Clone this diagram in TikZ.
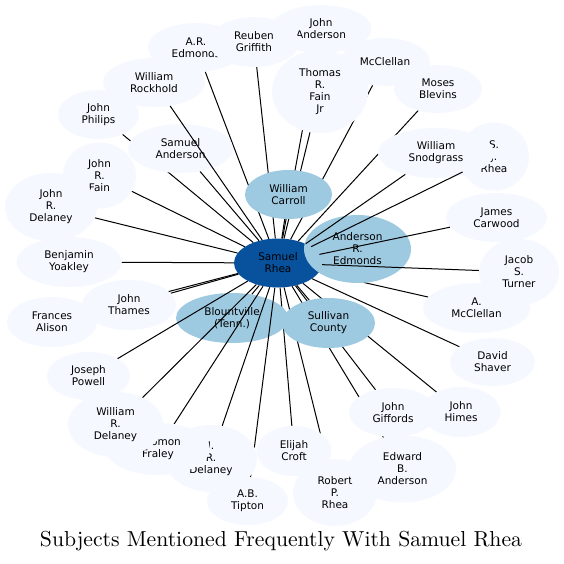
\documentclass[tikz,border=0pt]{standalone}
\usepackage{fontspec}
\usepackage{graphicx}
\setsansfont{DejaVu Sans}
\usetikzlibrary{shapes.geometric}
\definecolor{lightbub}{RGB}{245,249,255}
\definecolor{midbub}{RGB}{158,202,225}
\definecolor{darkbub}{RGB}{8,81,156}
\pgfdeclarelayer{bg}
\pgfdeclarelayer{base}
\pgfdeclarelayer{edgesover}
\pgfdeclarelayer{top}
\pgfsetlayers{bg,base,main,edgesover,top}
\begin{document}
\begin{tikzpicture}[x=1pt,y=-1pt,
  bub/.style={ellipse, inner sep=0pt, align=center, text=black,
    font=\sffamily\fontsize{10.5}{12}\selectfont},
  lt/.style={bub, fill=lightbub},
  md/.style={bub, fill=midbub},
  dk/.style={bub, fill=darkbub},
  sz/.style 2 args={minimum width=#1pt, minimum height=#2pt},
  link/.style={draw=black, line width=1pt}
]
\useasboundingbox (0,0) rectangle (564,563);
\begin{pgfonlayer}{bg}
\fill[white] (0,0) rectangle (564,563);
\end{pgfonlayer}

% centre
\begin{pgfonlayer}{base}
\node[dk, sz={88}{49}] (sr) at (278,263) {Samuel\\Rhea};
\end{pgfonlayer}

% central mid-blue nodes
\node[md, sz={107}{68}] (ardm) at (357.5,249) {Anderson\\R.\\Edmonds};
\node[md, sz={112}{50}] (blount) at (232,318) {Blountville\\(Tenn.)};
\node[md, sz={87}{49}] (carroll) at (288.5,194.5) {William\\Carroll};
\node[md, sz={93}{50}] (sull) at (328.5,323) {Sullivan\\County};

% peripheral nodes
\node[lt, sz={96}{49}] (aredm) at (196,47.5) {A.R.\\Edmonds};
\node[lt, sz={101}{48}] (janderson) at (321,29) {John\\Anderson};
\node[lt, sz={90}{50}] (reuben) at (254,42) {Reuben\\Griffith};
\node[lt, sz={96}{83}] (thomas) at (320,91.5) {Thomas\\R.\\Fain\\Jr};
\node[lt, sz={90}{48}] (mcclellan) at (385,62) {McClellan};
\node[lt, sz={88}{48}] (moses) at (438,89) {Moses\\Blevins};
\node[lt, sz={102}{49}] (rockhold) at (154,82.5) {William\\Rockhold};
\node[lt, sz={81}{49}] (philips) at (98.5,114.5) {John\\Philips};
\node[lt, sz={105}{49}] (sanderson) at (180.5,148.5) {Samuel\\Anderson};
\node[lt, sz={73}{66}] (jrfain) at (99.5,175.5) {John\\R.\\Fain};
\node[lt, sz={92}{68}] (jrdelaney) at (51,207) {John\\R.\\Delaney};
\node[lt, sz={105}{50}] (yoakley) at (69,262) {Benjamin\\Yoakley};
\node[lt, sz={94}{50}] (thames) at (129,305) {John\\Thames};
\node[lt, sz={90}{50}] (alison) at (52,322) {Frances\\Alison};
\node[lt, sz={83}{48}] (powell) at (88.5,376) {Joseph\\Powell};
\node[lt, sz={81}{48}] (tipton) at (247.5,501) {A.B.\\Tipton};
\node[lt, sz={75}{50}] (croft) at (294,451) {Elijah\\Croft};
\node[lt, sz={84}{67}] (rrhea) at (335,492.5) {Robert\\P.\\Rhea};
\node[lt, sz={107}{67}] (ebanderson) at (402.5,469) {Edward\\B.\\Anderson};
\node[lt, sz={88}{49}] (giffords) at (393,412.5) {John\\Giffords};
\node[lt, sz={79}{50}] (himes) at (461,412) {John\\Himes};
\node[lt, sz={85}{48}] (shaver) at (492.5,362) {David\\Shaver};
\node[lt, sz={107}{50}] (amcclellan) at (476.5,308) {A.\\McClellan};
\node[lt, sz={80}{66}] (turner) at (519,272) {Jacob\\S.\\Turner};
\node[lt, sz={101}{49}] (carwood) at (496.5,217.5) {James\\Carwood};
\node[lt, sz={70}{68}] (sjrhea) at (494,156.5) {S.\\J.\\Rhea};
\node[lt, sz={116}{50}] (snodgrass) at (436,153) {William\\Snodgrass};

\begin{pgfonlayer}{top}
\node[lt, sz={92}{67}] (rdelaney) at (211,458.5) {J.\\R.\\Delaney};
\node[lt, sz={104}{52}] (solomon) at (158,449) {Solomon\\Fraley};
\node[lt, sz={95}{65}] (wrdelaney) at (115.5,424.5) {William\\R.\\Delaney};
\end{pgfonlayer}

% edges hidden by nodes drawn later
\begin{pgfonlayer}{base}
\foreach \t in {philips,alison,janderson,ebanderson,amcclellan,aredm,reuben,
  thomas,mcclellan,moses,giffords,himes,rrhea,croft,shaver,yoakley,
  jrdelaney,jrfain,sanderson,thames,carroll,ardm,sull,blount}
  \draw[link] (sr) -- (\t);
\end{pgfonlayer}

% edges drawn over nodes
\begin{pgfonlayer}{edgesover}
\foreach \t in {rockhold,snodgrass,sjrhea,carwood,turner,powell,
  wrdelaney,solomon,rdelaney,tipton}
  \draw[link] (sr) -- (\t);
\end{pgfonlayer}

\node[inner sep=0pt] (title) at (281,541)
  {\resizebox{482pt}{!}{Subjects Mentioned Frequently With Samuel Rhea}};
\end{tikzpicture}
\end{document}
